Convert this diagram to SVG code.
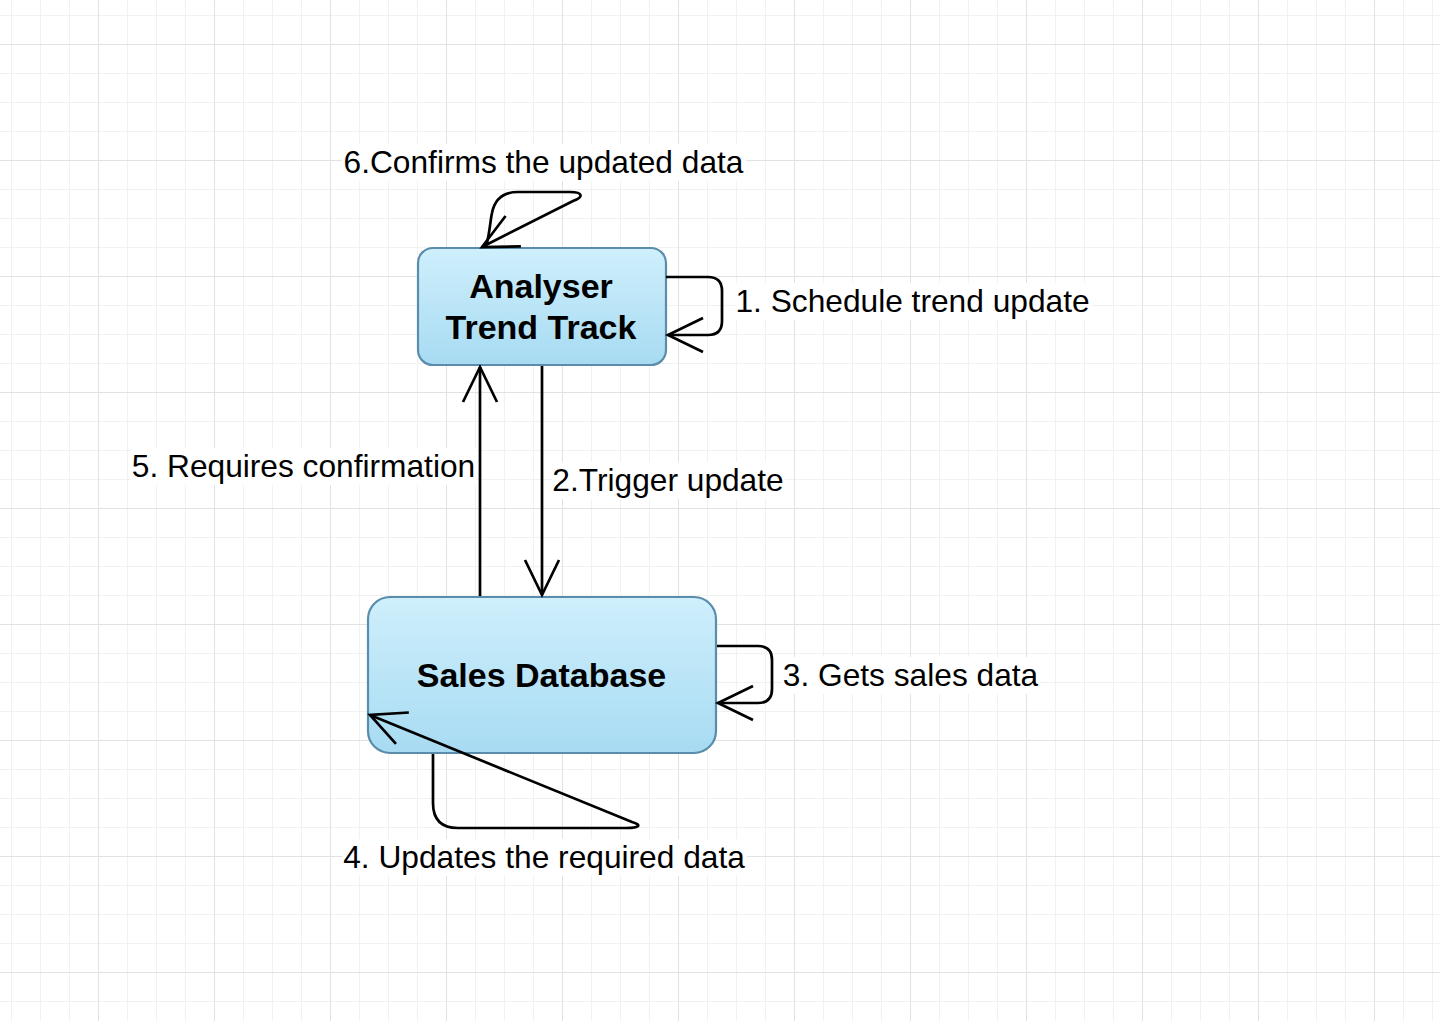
<svg xmlns="http://www.w3.org/2000/svg" width="1440" height="1021" viewBox="0 0 1440 1021">
  <defs>
    <pattern id="grid" patternUnits="userSpaceOnUse" x="98" y="44" width="116" height="116">
      <path d="M29.5 0V116M58.5 0V116M87.5 0V116M0 29.5H116M0 58.5H116M0 87.5H116" stroke="#f1f1f1" stroke-width="1" fill="none"/>
      <path d="M0.5 0V116M0 0.5H116" stroke="#e2e2e2" stroke-width="1" fill="none"/>
    </pattern>
    <linearGradient id="fill" x1="0" y1="0" x2="0" y2="1">
      <stop offset="0" stop-color="#cfeffc"/>
      <stop offset="1" stop-color="#a7dbf2"/>
    </linearGradient>
    <marker id="arr" markerUnits="userSpaceOnUse" viewBox="-40 -20 44 40" markerWidth="44" markerHeight="40" refX="0" refY="0" orient="auto">
      <path d="M-35,-17 L0,0 L-35,17" fill="none" stroke="#000" stroke-width="2.7" stroke-linejoin="miter"/>
    </marker>
    <style>
      .node rect { fill: url(#fill); stroke: #5a8cab; stroke-width: 2.2; }
      .ntext { font-family: "Liberation Sans", Arial, Helvetica, sans-serif; font-weight: bold; font-size: 34px; fill: #000; text-anchor: middle; }
      .edge { fill: none; stroke: #000; stroke-width: 2.7; marker-end: url(#arr); }
      .lbg { fill: #fff; }
      .ltext { font-family: "Liberation Sans", Arial, Helvetica, sans-serif; font-size: 31.7px; fill: #000; text-anchor: middle; }
    </style>
  </defs>
  <rect width="1440" height="1021" fill="#fff"/>
  <rect width="1440" height="1021" fill="url(#grid)"/>

  <g id="labels">
    <g id="l1"><rect class="lbg" x="735" y="283" width="356" height="37"/><text class="ltext" x="912.5" y="312">1. Schedule trend update</text></g>
    <g id="l2"><rect class="lbg" x="552" y="462" width="233" height="37"/><text class="ltext" x="668" y="491">2.Trigger update</text></g>
    <g id="l3"><rect class="lbg" x="782" y="657" width="258" height="37"/><text class="ltext" x="910.5" y="686">3. Gets sales data</text></g>
    <g id="l4"><rect class="lbg" x="342" y="839" width="405" height="37"/><text class="ltext" x="544" y="868">4. Updates the required data</text></g>
    <g id="l5"><rect class="lbg" x="131" y="448" width="346" height="37"/><text class="ltext" x="303.5" y="477">5. Requires confirmation</text></g>
    <g id="l6"><rect class="lbg" x="342" y="144" width="404" height="37"/><text class="ltext" x="543.5" y="173">6.Confirms the updated data</text></g>
  </g>

  <g id="analyser" class="node">
    <rect x="418" y="248" width="248" height="117" rx="15" ry="15"/>
    <text class="ntext" x="541" y="298">Analyser</text>
    <text class="ntext" x="541" y="339">Trend Track</text>
  </g>
  <g id="sales" class="node">
    <rect x="368" y="597" width="348" height="156" rx="22" ry="22"/>
    <text class="ntext" x="541.5" y="687">Sales Database</text>
  </g>

  <g id="connectors">
    <path id="e1" class="edge" d="M666 277 L708 277 Q722 277 722 291 L722 321 Q722 335 708 335 L668 335"/>
    <path id="e2" class="edge" d="M542 366 L542 595"/>
    <path id="e3" class="edge" d="M717 646 L758 646 Q772 646 772 660 L772 689 Q772 703 758 703 L718 703"/>
    <path id="e4" class="edge" d="M433 754 L433 803 Q433 828 458 828 L626 828 C640 828 642 825 632 822 L370 715"/>
    <path id="e5" class="edge" d="M480 596 L480 367"/>
    <path id="e6" class="edge" d="M486 247 C490 232 490 222 492 213 Q496 192 518 192 L570 192 C583 192 584 197 573 201 L482 247"/>
  </g>
</svg>
